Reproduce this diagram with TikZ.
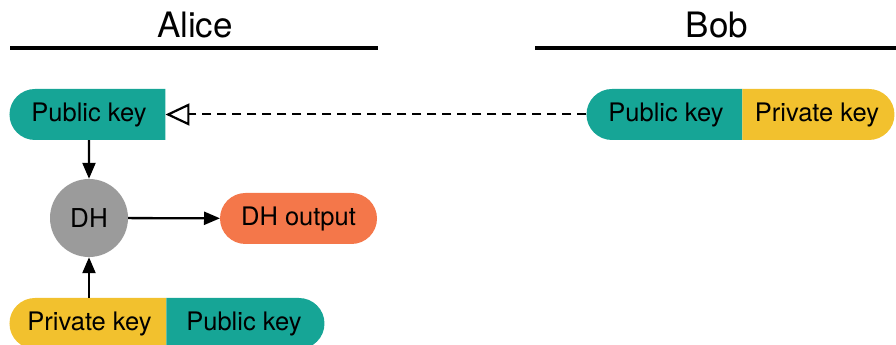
\documentclass[tikz,border=0pt]{standalone}
\usepackage{fontspec}
\setmainfont{TeX Gyre Heros}
\usetikzlibrary{arrows.meta,shapes.misc}
\definecolor{pubteal}{HTML}{16A596}
\definecolor{privyellow}{HTML}{F2C12E}
\definecolor{outorange}{HTML}{F4774A}
\definecolor{dhgray}{HTML}{9B9B9B}

\begin{document}
\begin{tikzpicture}[x=1pt,y=1pt,
  key/.style={rounded rectangle,minimum height=51pt,minimum width=156pt,inner sep=0pt,
    outer sep=0pt,font=\fontsize{25.5}{30}\selectfont},
  leftkey/.style={key,rounded rectangle right arc=none},
  rightkey/.style={key,rounded rectangle left arc=none,anchor=west},
  who/.style={font=\fontsize{35}{40}\selectfont},
  flow/.style={line width=2.3pt,-{Triangle[length=16pt,width=13pt]}},
  sendkey/.style={line width=2pt,dash pattern=on 9pt off 6pt,
    -{Triangle[open,length=24pt,width=22pt,line width=2.2pt]}}]
\useasboundingbox (0,0) rectangle (896,345);

\node[who] (alice) at (195,320) {Alice};
\node[who] (bob) at (717,320) {Bob};
\draw[line width=3.2pt] (10,297) -- (378,297);
\draw[line width=3.2pt] (535,297) -- (896,297);

\node[leftkey,fill=pubteal] (alicepub) at (89,230.5) {Public key};
\node[leftkey,fill=pubteal] (bobpub) at (666,230.5) {Public key};
\node[rightkey,fill=privyellow,minimum width=152pt] (bobpriv) at (bobpub.east) {Private key};

\node[circle,fill=dhgray,minimum size=78pt,inner sep=0pt,font=\fontsize{26}{30}\selectfont] (dh) at (89,127) {DH};
\node[key,fill=outorange,minimum width=157pt] (dhout) at (298.5,126.5) {DH output};

\node[leftkey,fill=privyellow,minimum width=157pt] (alicepriv) at (89.5,21.5) {Private key};
\node[rightkey,fill=pubteal,minimum width=158pt] (alicepub2) at (alicepriv.east) {Public key};

\draw[flow] (alicepub) -- (dh);
\draw[flow] (alicepriv.north -| dh) -- (dh);
\draw[flow] (dh) -- (dhout);
\draw[sendkey] (bobpub) -- (alicepub);
\end{tikzpicture}
\end{document}
